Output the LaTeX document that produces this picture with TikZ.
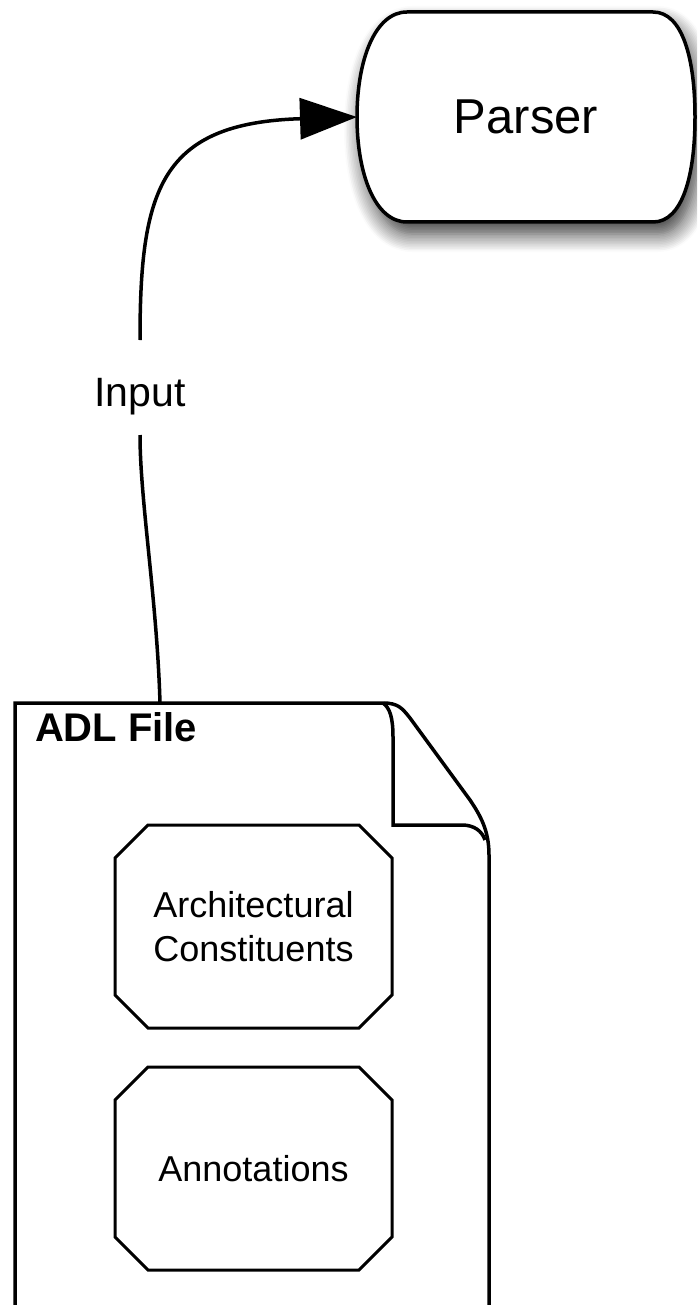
\documentclass[tikz,border=0pt]{standalone}
\usepackage{fontspec}
\setmainfont{Liberation Sans}
\usetikzlibrary{arrows.meta,shadows.blur}
\begin{document}
\begin{tikzpicture}[x=1pt,y=-1pt,inner sep=0pt,outer sep=0pt,line width=3.5pt,
procbox/.style={minimum width=338pt,minimum height=210pt,font=\fontsize{49}{54}\selectfont},
octbox/.style={minimum width=277pt,minimum height=203pt,align=center,font=\fontsize{36}{44}\selectfont},
lbl/.style={font=\fontsize{41}{48}\selectfont}]
\clip (0,0) rectangle (697,1305);
% parser, rounded sides with shadow
\draw[fill=white,blur shadow={shadow xshift=5pt,shadow yshift=-12pt,shadow blur radius=18pt,shadow blur steps=12,shadow opacity=80}]
  (407,12) -- (653,12) .. controls (683,12) and (695,60) .. (695,117)
  .. controls (695,174) and (683,222) .. (653,222) -- (407,222)
  .. controls (375,222) and (357,174) .. (357,117)
  .. controls (357,60) and (375,12) .. (407,12) -- cycle;
\draw (526,117) node[procbox] (parser) {Parser};

% the file, cut off at the bottom
\draw (15,1320) -- (15,703) -- (383,703) .. controls (398,703) and (402,708) .. (410,718)
  -- (470,800) .. controls (480,815) and (489,830) .. (489,855) -- (489,1320);
\draw (383,703) .. controls (390,708) and (393,718) .. (393,737) -- (393,825) -- (462,825)
  .. controls (474,825) and (482,831) .. (485,840);
\draw (35,741) node[anchor=base west,font=\bfseries\fontsize{40}{48}\selectfont] (adl) {ADL File};
\coordinate (filein) at (160,703);

\draw (253.5,926.5) node[octbox] (arch) {Architectural\\Constituents};
\draw (253.5,1168.5) node[octbox] (annot) {Annotations};
\foreach \n in {arch,annot}
  \draw[line width=3pt] ([xshift=33pt]\n.north west) -- ([xshift=-33pt]\n.north east)
    -- ([yshift=-33pt]\n.north east) -- ([yshift=33pt]\n.south east)
    -- ([xshift=-33pt]\n.south east) -- ([xshift=33pt]\n.south west)
    -- ([yshift=33pt]\n.south west) -- ([yshift=-33pt]\n.north west) -- cycle;

% input arrow
\draw (140,406) node[lbl,anchor=base,text height=46pt,text depth=9pt,inner ysep=20pt] (input) {Input};
\draw (filein) .. controls (157,600) and (140,500) .. (input.south);
\draw[-{Triangle[length=57pt,width=41pt,fill=black]}] (input.north) .. controls (140,190) and (160,123) .. (parser.west);
\end{tikzpicture}
\end{document}
